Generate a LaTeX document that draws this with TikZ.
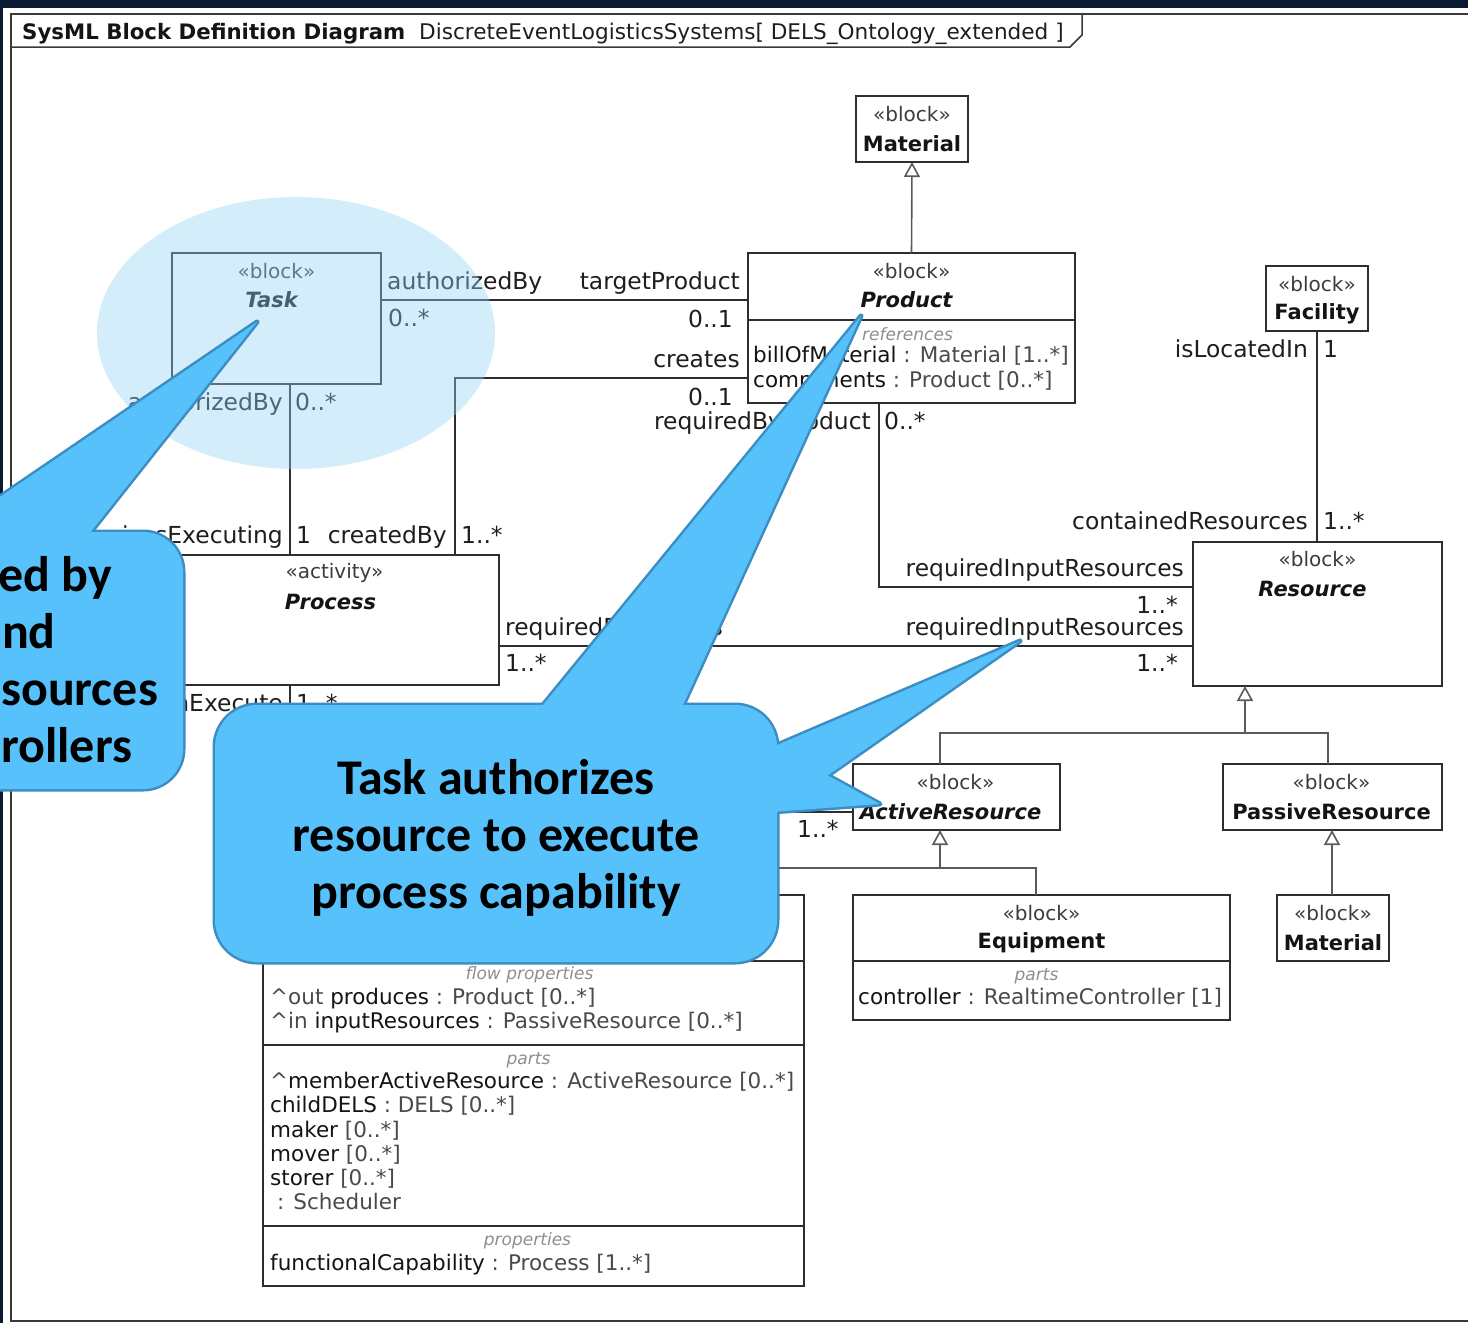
\documentclass[tikz,border=0pt]{standalone}
\usepackage{fontspec}
\setmainfont{DejaVu Sans}
\newfontfamily\callfont{Carlito}
\usetikzlibrary{arrows.meta,calc}
\definecolor{navy}{HTML}{0B1A33}
\definecolor{framec}{HTML}{3A3A3A}
\definecolor{linec}{HTML}{2E2E2E}
\definecolor{genc}{HTML}{5A5A5A}
\definecolor{labc}{HTML}{1E1E1E}
\definecolor{namec}{HTML}{141414}
\definecolor{sterc}{HTML}{3C3C3C}
\definecolor{typec}{HTML}{4A4A4A}
\definecolor{compc}{HTML}{8E8E8E}
\definecolor{hilite}{RGB}{145,212,245}
\definecolor{calloutf}{HTML}{56C1FA}
\definecolor{calloutb}{HTML}{3B8DC2}
\newcommand\nm[1]{\textcolor{namec}{#1}}
% callout outlines: drawn once as a wide stroke, once as a fill, so the pieces merge
\newcommand\leftcallout[1]{%
  \path[#1,rounded corners=40pt] (-400,532) rectangle (183,789);
  \path[#1] (257,322) -- (68.6,560) -- (-92.7,560) -- cycle;}
\newcommand\maincallout[1]{%
  \path[#1,rounded corners=42pt] (215,705) rectangle (777,962);
  \path[#1] (861,316) -- (671.6,730) -- (522.6,730) -- cycle;
  \path[#1] (1020,641) -- (750,756.6) -- (750,829.9) -- cycle;
  \path[#1] (880,804) -- (750,732.8) -- (750,813.6) -- cycle;}
\begin{document}
\begin{tikzpicture}[x=1pt,y=-1pt,
  blk/.style={draw=linec,line width=1.6pt,fill=white,inner sep=0pt,outer sep=0pt,anchor=north west},
  ster/.style={font=\fontsize{20}{24}\selectfont,text=sterc,inner sep=0pt},
  bname/.style={font=\fontsize{21}{24}\selectfont\bfseries,text=namec,inner sep=0pt},
  bnamei/.style={font=\fontsize{21}{24}\selectfont\bfseries\itshape,text=namec,inner sep=0pt},
  lab/.style={font=\fontsize{23.4}{27}\selectfont,text=labc,inner sep=0pt},
  labl/.style={lab,anchor=base west},
  labr/.style={lab,anchor=base east},
  attr/.style={font=\fontsize{21.5}{25}\selectfont,text=typec,inner sep=0pt,anchor=base west},
  comp/.style={font=\fontsize{17}{20}\selectfont\itshape,text=compc,inner sep=0pt},
  assoc/.style={draw=linec,line width=1.6pt},
  genl/.style={draw=genc,line width=1.6pt},
  gen/.style={genl,-{Triangle[length=15pt,width=16pt,fill=white]}},
  calloutedge/.style={draw=calloutb,line width=5pt,line join=round},
  calloutfill/.style={fill=calloutf},
  calltext/.style={font=\fontsize{50}{57}\callfont\bfseries,text=black,inner sep=0pt},
]
\useasboundingbox (0,0) rectangle (1468,1323);
\clip (0,0) rectangle (1468,1323);
\fill[white] (0,0) rectangle (1468,1323);
\fill[navy] (0,0) rectangle (1468,8);
\fill[navy] (0,0) rectangle (3,1323);

% diagram frame and header tab
\draw[framec,line width=2.5pt] (1468,14) -- (11,14) -- (11,1321) -- (1468,1321);
\draw[framec,line width=1.5pt] (11,47) -- (1070,47) -- (1082,35) -- (1082,14);
\node[font=\fontsize{21.3}{24}\selectfont\bfseries,text=namec,inner sep=0pt,anchor=base west] (hdrkind) at (22,39) {SysML Block Definition Diagram};
\node[font=\fontsize{21.6}{24}\selectfont,text=labc,inner sep=0pt,anchor=base west] (hdrname) at (419,39) {DiscreteEventLogisticsSystems[ DELS\_Ontology\_extended ]};

% blocks
\node[blk,minimum width=112pt,minimum height=66pt] (matA) at (856,96) {};
\node[blk,minimum width=209pt,minimum height=131pt] (task) at (172,253) {};
\node[blk,minimum width=327pt,minimum height=150pt] (prod) at (748,253) {};
\node[blk,minimum width=102pt,minimum height=65pt] (fac) at (1266,266) {};
\node[blk,minimum width=249pt,minimum height=144pt] (res) at (1193,542) {};
\node[blk,minimum width=329pt,minimum height=130pt] (proc) at (170,555) {};
\node[blk,minimum width=207pt,minimum height=66pt] (act) at (853,764) {};
\node[blk,minimum width=219pt,minimum height=66pt] (pas) at (1223,764) {};
\node[blk,minimum width=377pt,minimum height=125pt] (equ) at (853,895) {};
\node[blk,minimum width=112pt,minimum height=66pt] (matB) at (1277,895) {};
\node[blk,minimum width=541pt,minimum height=391pt] (dels) at (263,895) {};

% block headers
\node[ster] (matA-s) at ($(matA.north)+(0,18)$) {«block»};
\node[bname] (matA-n) at ($(matA.north)+(0,48)$) {Material};
\node[ster] (task-s) at ($(task.north)+(0,18)$) {«block»};
\node[bnamei] (task-n) at ($(task.north)+(-5,47)$) {Task};
\node[ster] (prod-s) at ($(prod.north)+(0,18)$) {«block»};
\node[bnamei] (prod-n) at ($(prod.north)+(-5,47)$) {Product};
\node[ster] (fac-s) at ($(fac.north)+(0,18)$) {«block»};
\node[bname] (fac-n) at ($(fac.north)+(0,48)$) {Facility};
\node[ster] (res-s) at ($(res.north)+(0,17)$) {«block»};
\node[bnamei] (res-n) at ($(res.north)+(-5,47)$) {Resource};
\node[ster] (proc-s) at ($(proc.north)+(0,18)$) {«activity»};
\node[bnamei] (proc-n) at ($(proc.north)+(-4,47)$) {Process};
\node[ster] (act-s) at ($(act.north)+(-1,18)$) {«block»};
\node[bnamei] (act-n) at ($(act.north)+(-6,48)$) {ActiveResource};
\node[ster] (pas-s) at ($(pas.north)+(-1,18)$) {«block»};
\node[bname] (pas-n) at ($(pas.north)+(-1,48)$) {PassiveResource};
\node[ster] (equ-s) at ($(equ.north)+(0,18)$) {«block»};
\node[bname] (equ-n) at ($(equ.north)+(0,48)$) {Equipment};
\node[ster] (matB-s) at ($(matB.north)+(0,18)$) {«block»};
\node[bname] (matB-n) at ($(matB.north)+(0,48)$) {Material};

% compartments
\draw[assoc] ($(prod.north west)+(0,67)$) -- ($(prod.north east)+(0,67)$);
\node[comp] (prod-c) at ($(prod.north)+(-4,81)$) {references};
\node[attr] (prod-a1) at ($(prod.north west)+(5,109)$) {\nm{billOfMaterial} : Material [1..*]};
\node[attr] (prod-a2) at ($(prod.north west)+(5,134)$) {\nm{components} : Product [0..*]};

\draw[assoc] ($(equ.north west)+(0,66)$) -- ($(equ.north east)+(0,66)$);
\node[comp] (equ-c) at ($(equ.north)+(-5,81)$) {parts};
\node[attr] (equ-a1) at ($(equ.north west)+(5,109)$) {\nm{controller} : RealtimeController [1]};

\draw[assoc] ($(dels.north west)+(0,66)$) -- ($(dels.north east)+(0,66)$);
\draw[assoc] ($(dels.north west)+(0,150)$) -- ($(dels.north east)+(0,150)$);
\draw[assoc] ($(dels.north west)+(0,331)$) -- ($(dels.north east)+(0,331)$);
\node[comp] (dels-c1) at ($(dels.north)+(-4,80)$) {flow properties};
\node[attr] (dels-f1) at ($(dels.north west)+(7,109)$) {\textasciicircum out \nm{produces} : Product [0..*]};
\node[attr] (dels-f2) at ($(dels.north west)+(7,133)$) {\textasciicircum in \nm{inputResources} : PassiveResource [0..*]};
\node[comp] (dels-c2) at ($(dels.north)+(-5,165)$) {parts};
\node[attr] (dels-p1) at ($(dels.north west)+(7,193)$) {\textasciicircum\nm{memberActiveResource} : ActiveResource [0..*]};
\node[attr] (dels-p2) at ($(dels.north west)+(7,217)$) {\nm{childDELS} : DELS [0..*]};
\node[attr] (dels-p3) at ($(dels.north west)+(7,242)$) {\nm{maker} [0..*]};
\node[attr] (dels-p4) at ($(dels.north west)+(7,266)$) {\nm{mover} [0..*]};
\node[attr] (dels-p5) at ($(dels.north west)+(7,290)$) {\nm{storer} [0..*]};
\node[attr] (dels-p6) at ($(dels.north west)+(7,314)$) {\ : Scheduler};
\node[comp] (dels-c3) at ($(dels.north)+(-6,346)$) {properties};
\node[attr] (dels-q1) at ($(dels.north west)+(7,375)$) {\nm{functionalCapability} : Process [1..*]};

% generalizations
\draw[gen] (prod.north) -- (matA.south);
\coordinate (rj) at ($(res.south west)+(52,47)$);
\draw[genl] ($(act.north west)+(87,0)$) |- (rj) -| ($(pas.north west)+(105,0)$);
\draw[gen] (rj) -- ($(res.south west)+(52,0)$);
\coordinate (aj) at ($(act.south west)+(87,38)$);
\draw[genl] ($(dels.north west)+(437,0)$) |- (aj) -| ($(equ.north west)+(183,0)$);
\draw[gen] (aj) -- ($(act.south west)+(87,0)$);
\draw[gen] ($(matB.north west)+(55,0)$) -- ($(pas.south west)+(109,0)$);

% associations
\draw[assoc] ($(task.north east)+(0,47)$) -- ($(prod.north west)+(0,47)$);
\draw[assoc] ($(prod.north west)+(0,125)$) -| ($(proc.north west)+(285,0)$);
\draw[assoc] ($(task.south west)+(118,0)$) -- ($(proc.north west)+(120,0)$);
\draw[assoc] ($(proc.south west)+(120,0)$) -- ($(dels.north west)+(27,0)$);
\draw[assoc] ($(proc.north east)+(0,91)$) -- ($(res.north west)+(0,104)$);
\draw[assoc] ($(prod.south west)+(131,0)$) |- ($(res.north west)+(0,45)$);
\draw[assoc] (fac.south) -- (fac.south |- res.north);
\draw[assoc] ($(act.north west)+(0,48)$) -| ($(dels.north west)+(497,0)$);

% association end labels
\node[labl] (e1) at (387,289) {authorizedBy};
\node[labl] (e2) at (388,326) {0..*};
\node[labr] (e3) at (740,289) {targetProduct};
\node[labr] (e4) at (733,327) {0..1};
\node[labr] (e5) at (740,367) {creates};
\node[labr] (e6) at (733,405) {0..1};
\node[labr] (e7) at (871,429) {requiredByProduct};
\node[labl] (e8) at (884,429) {0..*};
\node[labr] (e9) at (283,410) {authorizedBy};
\node[labl] (e10) at (295,410) {0..*};
\node[labr] (e11) at (283,543) {authorizesExecuting};
\node[labl] (e12) at (296,543) {1};
\node[labr] (e13) at (447,543) {createdBy};
\node[labl] (e14) at (461,543) {1..*};
\node[labr] (e15) at (1308,357) {isLocatedIn};
\node[labl] (e16) at (1323,357) {1};
\node[labr] (e17) at (1308,529) {containedResources};
\node[labl] (e18) at (1323,529) {1..*};
\node[labr] (e19) at (1184,576) {requiredInputResources};
\node[labr] (e20) at (1178,613) {1..*};
\node[labl] (e21) at (505,635) {requiredResources};
\node[labl] (e22) at (505,671) {1..*};
\node[labr] (e23) at (1184,635) {requiredInputResources};
\node[labr] (e24) at (1178,671) {1..*};
\node[labr] (e25) at (283,711) {canExecute};
\node[labl] (e26) at (296,711) {1..*};
\node[labl] (e27) at (797,837) {1..*};

% highlight round the Task block
\fill[hilite,opacity=0.4] (296,333) ellipse [x radius=199, y radius=136];

% callouts
\leftcallout{calloutedge}
\leftcallout{calloutfill}
\node[calltext,anchor=base east] (c1a) at (112,591) {ed by};
\node[calltext,anchor=base east] (c1b) at (56,648) {nd};
\node[calltext,anchor=base west] (c1c) at (1,705) {sources};
\node[calltext,anchor=base west] (c1d) at (1,762) {rollers};

\maincallout{calloutedge}
\maincallout{calloutfill}
\node[calltext,align=center] (c2) at (496,838) {Task authorizes\\resource to execute\\process capability};
\end{tikzpicture}
\end{document}
